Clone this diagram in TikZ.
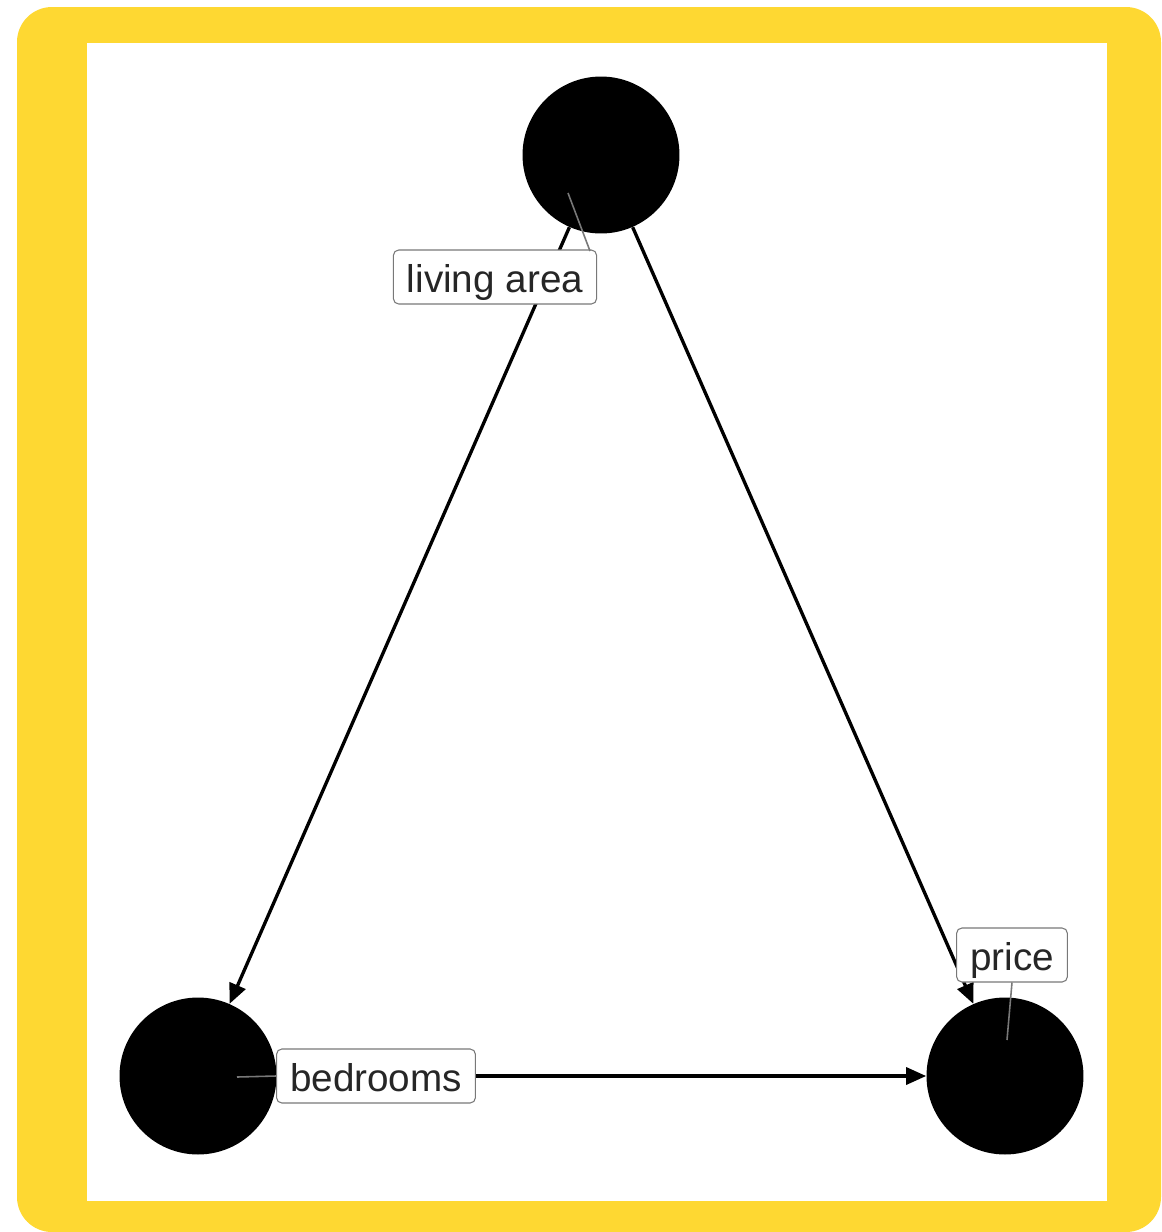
\documentclass[tikz,border=0pt]{standalone}
\usepackage{fontspec}
\setmainfont{Liberation Sans}
\usepackage{tikz}
\usetikzlibrary{positioning, arrows.meta}
\definecolor{frameyellow}{RGB}{254,216,50}
\definecolor{leadergray}{RGB}{120,120,120}

\begin{document}
\begin{tikzpicture}[x=0.02cm, y=-0.02cm, >={Triangle[length=0.4cm, width=0.34cm]},
  vertex/.style={circle, fill=black, minimum size=3.14cm, inner sep=0pt},
  lbl/.style={draw=leadergray, fill=white, rounded corners=3pt, line width=0.6pt,
    font=\fontsize{22}{26}\selectfont, text=black!85, inner xsep=0.27cm,
    inner ysep=0.14cm, text height=0.7cm, text depth=0.09cm,
    minimum height=1.08cm},
  leader/.style={leadergray, line width=0.9pt},
  edge/.style={->, line width=1.9pt}]

% --- frame ---
\useasboundingbox (0,0) rectangle (1161,1232);
\fill[white] (0,0) rectangle (1161,1232);
\fill[frameyellow, rounded corners=0.7cm] (17,7) rectangle (1161,1232);
\fill[white] (87,43) rectangle (1107,1201);

% --- vertices ---
\node[vertex] (living) at (601,155) {};
\node[vertex] (bed) at (198,1076) {};
\node[vertex] (price) at (1005,1076) {};

% Directed edges
\draw[edge] (living) -- (bed);
\draw[edge] (living) -- (price);
\draw[edge] (bed) -- (price);

% Labels with leader lines
\coordinate (livingpin) at (568,193);
\coordinate (bedpin) at (237,1077);
\coordinate (pricepin) at (1007,1040);

\node[lbl] (livinglbl) at (495,277) {living area};
\node[lbl] (bedlbl) at (376,1076) {bedrooms};
\node[lbl] (pricelbl) at (1012,955) {price};

\draw[leader] (livingpin) -- (590,251);
\draw[leader] (bedpin) -- (bedlbl.west);
\draw[leader] (pricepin) -- (pricelbl.south);

\end{tikzpicture}
\end{document}
